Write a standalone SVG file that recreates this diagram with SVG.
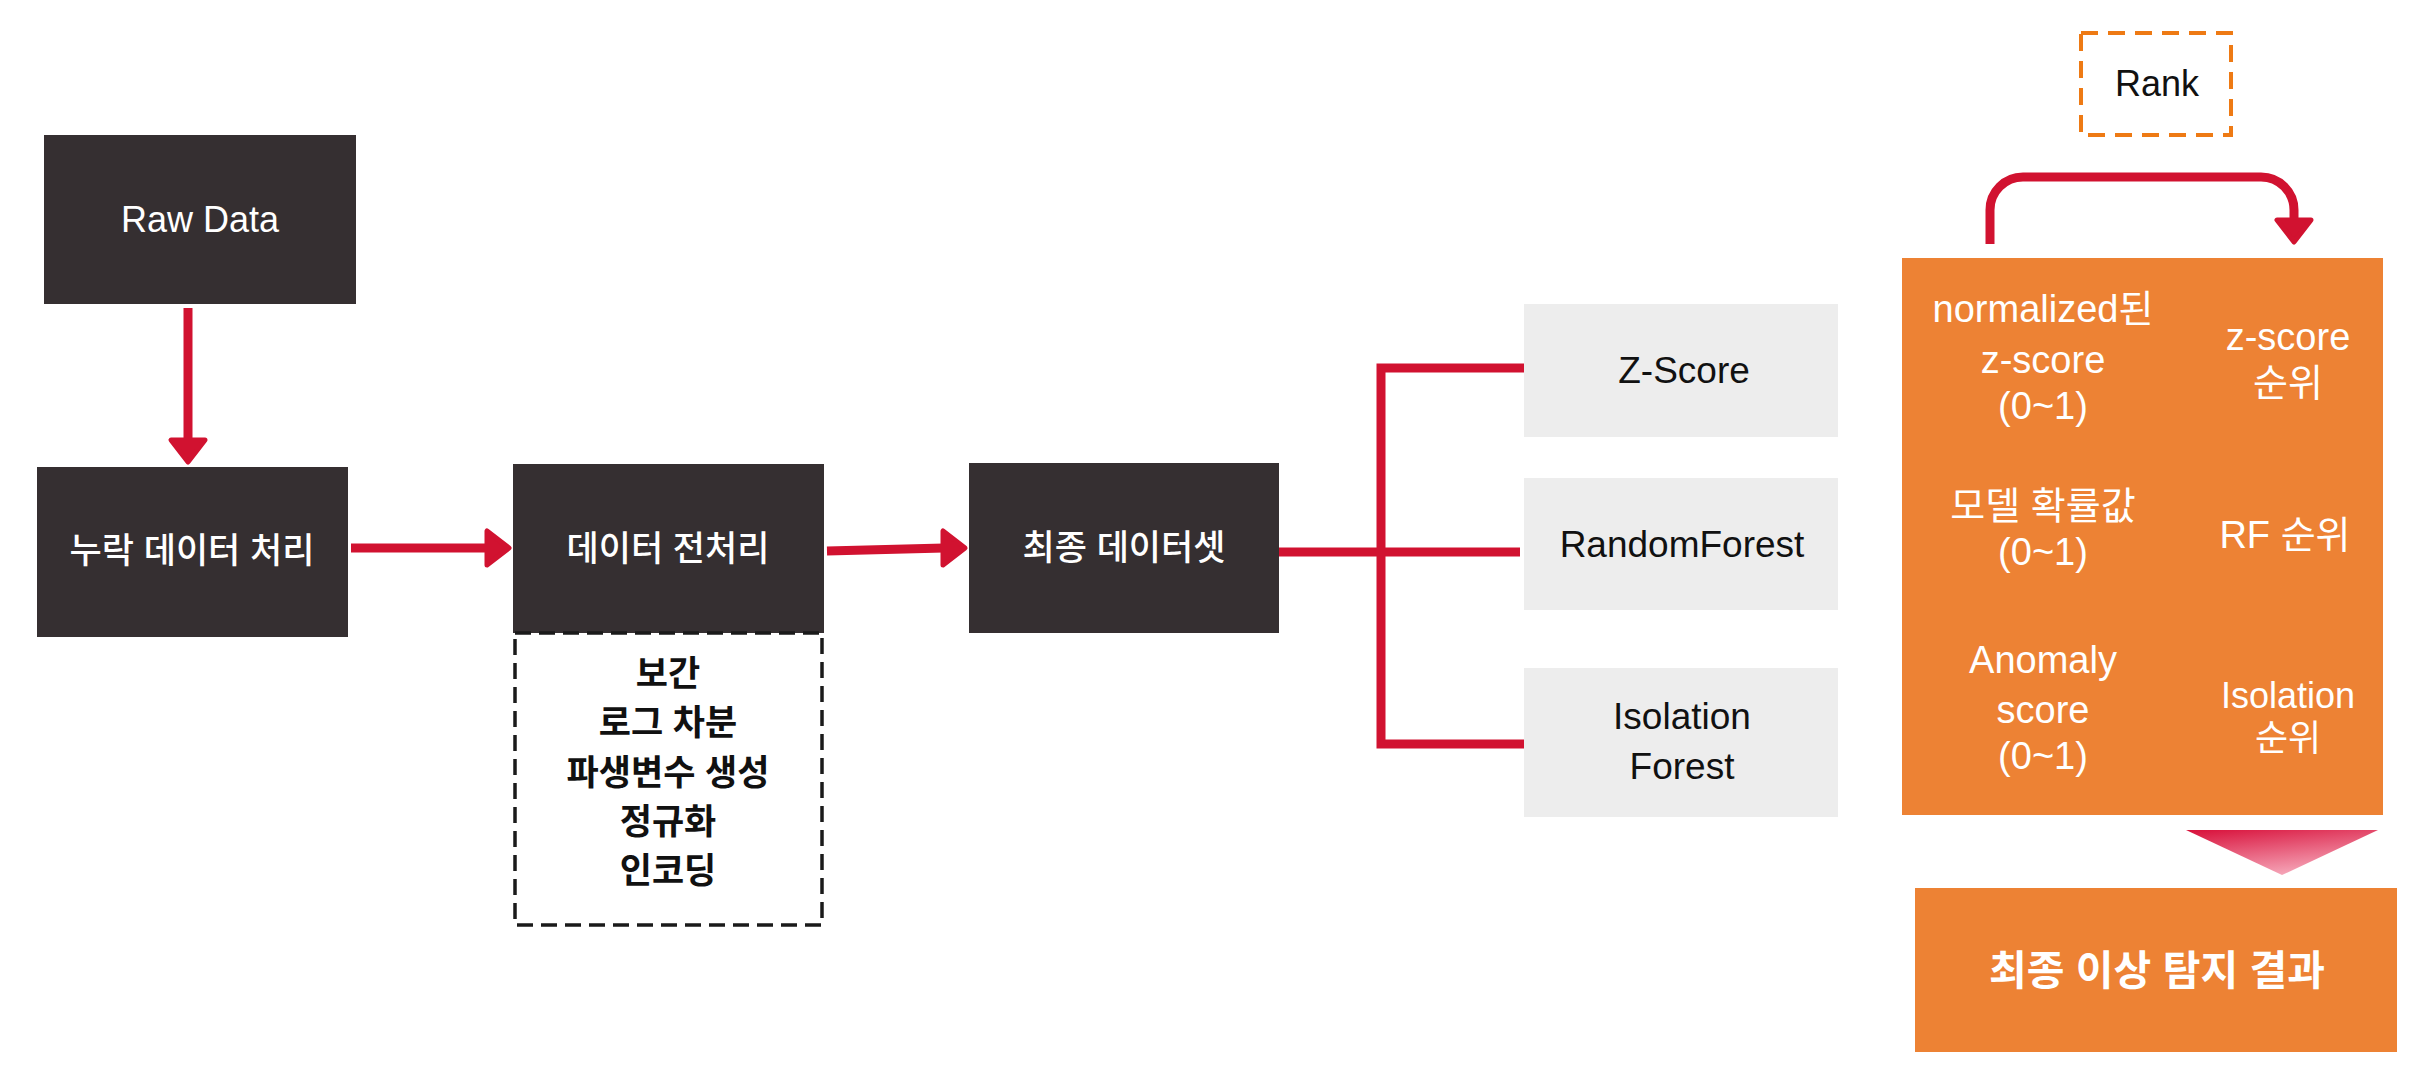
<svg xmlns="http://www.w3.org/2000/svg" width="2426" height="1086" viewBox="0 0 2426 1086">
<style>
.dark{fill:#352F31}
.gray{fill:#EDEDED}
.orange{fill:#ED8234}
.t{font-family:"Liberation Sans","Noto Sans CJK KR",sans-serif;text-anchor:middle;dominant-baseline:central}
.wt{fill:#FFFFFF;font-size:35px;font-weight:500}
.lat{font-size:36px}
.bk{fill:#111111}
.gt{font-size:37px;fill:#111111}
.ot{fill:#FFFFFF;font-size:38px}
.ot2{fill:#FFFFFF;font-size:36px}
.sub{font-size:35px;font-weight:bold;fill:#111111}
.line{fill:none;stroke:#D11230;stroke-width:9}
.ah{fill:#D11230;stroke:#D11230;stroke-width:5;stroke-linejoin:round}
</style>
<defs>
<linearGradient id="tri" x1="0" y1="0" x2="0.45" y2="1">
<stop offset="0" stop-color="#D8103A"/>
<stop offset="1" stop-color="#F5A3B6"/>
</linearGradient>
</defs>
<rect width="2426" height="1086" fill="#FFFFFF"/>
<g id="connectors">
<line class="line" x1="188" y1="308" x2="188" y2="441"/>
<path class="ah" d="M171,440 L205,440 L188,462 Z"/>
<line class="line" x1="351" y1="548" x2="488" y2="548"/>
<path class="ah" d="M487,531 L487,565 L509,548 Z"/>
<line class="line" x1="827" y1="551" x2="944" y2="548"/>
<path class="ah" d="M943,531 L943,565 L965,548 Z"/>
<line class="line" x1="1279" y1="552" x2="1520" y2="552"/>
<path class="line" d="M1524,368 H1381 V744 H1524"/>
<path class="line" d="M1990,244 V210 A33,33 0 0 1 2023,177 H2261 A33,33 0 0 1 2294,210 V221"/>
<path class="ah" d="M2277,220 L2311,220 L2294,242 Z"/>
<path d="M2186,830 L2378,830 L2282,875 Z" fill="url(#tri)"/>
</g>
<g id="raw-data">
<rect class="dark" x="44" y="135" width="312" height="169"/>
<text class="t wt lat" x="200" y="219">Raw Data</text>
</g>
<g id="missing">
<rect class="dark" x="37" y="467" width="311" height="170"/>
<text class="t wt" x="192" y="550">누락 데이터 처리</text>
</g>
<g id="preprocess">
<rect class="dark" x="513" y="464" width="311" height="169"/>
<text class="t wt" x="668" y="548">데이터 전처리</text>
</g>
<g id="preprocess-steps">
<rect x="515" y="633" width="307" height="292" fill="none" stroke="#1A1A1A" stroke-width="3.5" stroke-dasharray="16,8"/>
<text class="t sub" x="668" y="673">보간</text>
<text class="t sub" x="668" y="722">로그 차분</text>
<text class="t sub" x="668" y="772">파생변수 생성</text>
<text class="t sub" x="668" y="821">정규화</text>
<text class="t sub" x="668" y="870">인코딩</text>
</g>
<g id="final-dataset">
<rect class="dark" x="969" y="463" width="310" height="170"/>
<text class="t wt" x="1124" y="547">최종 데이터셋</text>
</g>
<g id="zscore">
<rect class="gray" x="1524" y="304" width="314" height="133"/>
<text class="t gt" x="1684" y="370">Z-Score</text>
</g>
<g id="randomforest">
<rect class="gray" x="1524" y="478" width="314" height="132"/>
<text class="t gt" x="1682" y="544">RandomForest</text>
</g>
<g id="isolationforest">
<rect class="gray" x="1524" y="668" width="314" height="149"/>
<text class="t gt" x="1682" y="716">Isolation</text>
<text class="t gt" x="1682" y="766">Forest</text>
</g>
<g id="rank">
<rect x="2081" y="33" width="150" height="102" fill="none" stroke="#EE7A14" stroke-width="4" stroke-dasharray="17,10"/>
<text class="t bk" x="2157" y="83" font-size="36">Rank</text>
</g>
<g id="scores">
<rect class="orange" x="1902" y="258" width="481" height="557"/>
<text class="t ot" x="2043" y="309">normalized된</text>
<text class="t ot" x="2043" y="360">z-score</text>
<text class="t ot" x="2043" y="406">(0~1)</text>
<text class="t ot" x="2288" y="337">z-score</text>
<text class="t ot" x="2288" y="383">순위</text>
<text class="t ot" x="2043" y="506">모델 확률값</text>
<text class="t ot" x="2043" y="552">(0~1)</text>
<text class="t ot" x="2285" y="535">RF 순위</text>
<text class="t ot" x="2043" y="660">Anomaly</text>
<text class="t ot" x="2043" y="710">score</text>
<text class="t ot" x="2043" y="756">(0~1)</text>
<text class="t ot2" x="2288" y="695">Isolation</text>
<text class="t ot2" x="2288" y="738">순위</text>
</g>
<g id="final-result">
<rect class="orange" x="1915" y="888" width="482" height="164"/>
<text class="t" x="2157" y="971" fill="#FFFFFF" font-size="41" font-weight="bold">최종 이상 탐지 결과</text>
</g>
</svg>
